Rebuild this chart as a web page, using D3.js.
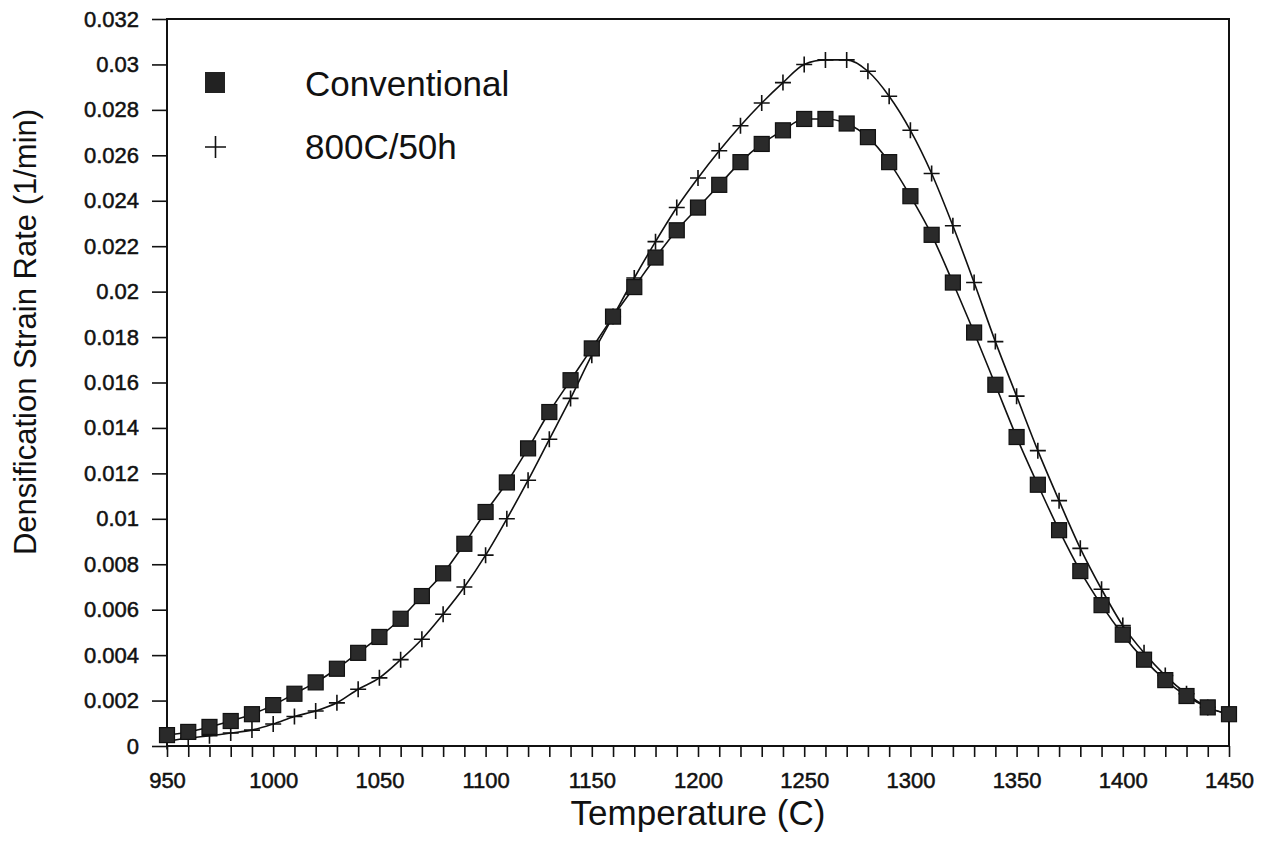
<!DOCTYPE html>
<html>
<head>
<meta charset="utf-8">
<script src="https://cdn.jsdelivr.net/npm/d3@7"></script>
<style>
  body { margin: 0; background: #fff; }
  text { font-family: "Liberation Sans", Arial, sans-serif; fill: #111; }
</style>
</head>
<body>
<div id="chart"></div>
<script>
// Chart data
var temps = [950, 960, 970, 980, 990, 1000, 1010, 1020, 1030, 1040,
             1050, 1060, 1070, 1080, 1090, 1100, 1110, 1120, 1130, 1140,
             1150, 1160, 1170, 1180, 1190, 1200, 1210, 1220, 1230, 1240,
             1250, 1260, 1270, 1280, 1290, 1300, 1310, 1320, 1330, 1340,
             1350, 1360, 1370, 1380, 1390, 1400, 1410, 1420, 1430, 1440, 1450];

var conventional = [0.00048, 0.00062, 0.00084, 0.0011, 0.0014, 0.0018, 0.0023, 0.0028, 0.0034, 0.0041,
                    0.0048, 0.0056, 0.0066, 0.0076, 0.0089, 0.0103, 0.0116, 0.0131, 0.0147, 0.0161,
                    0.0175, 0.0189, 0.0202, 0.0215, 0.0227, 0.0237, 0.0247, 0.0257, 0.0265, 0.0271,
                    0.0276, 0.0276, 0.0274, 0.0268, 0.0257, 0.0242, 0.0225, 0.0204, 0.0182, 0.0159,
                    0.0136, 0.0115, 0.0095, 0.0077, 0.0062, 0.0049, 0.0038, 0.0029, 0.0022, 0.0017, 0.0014];

var annealed = [0.0002, 0.00035, 0.00045, 0.00057, 0.0007, 0.00097, 0.0013, 0.00154, 0.0019, 0.0025,
                0.0030, 0.0038, 0.0047, 0.0058, 0.0070, 0.0084, 0.0100, 0.0117, 0.0135, 0.0153,
                0.0172, 0.0189, 0.0206, 0.0222, 0.0237, 0.0250, 0.0262, 0.0273, 0.0283, 0.0292,
                0.0300, 0.0302, 0.0302, 0.0297, 0.0286, 0.0271, 0.0252, 0.0229, 0.0204, 0.0178,
                0.0154, 0.0130, 0.0108, 0.0087, 0.0069, 0.0053, 0.0041, 0.0031, 0.0023, 0.0017, 0.0014];

var seriesNames = ['Conventional', '800C/50h'];
var xLabels = [950, 1000, 1050, 1100, 1150, 1200, 1250, 1300, 1350, 1400, 1450];
var yLabels = ['0', '0.002', '0.004', '0.006', '0.008', '0.01', '0.012', '0.014', '0.016',
               '0.018', '0.02', '0.022', '0.024', '0.026', '0.028', '0.03', '0.032'];

// Geometry
var width = 1277,
    height = 851;
var margin = {top: 19, right: 48, bottom: 105, left: 167};
var w = width - margin.left - margin.right,
    h = height - margin.top - margin.bottom;

var svg = d3.select('#chart').append('svg')
    .attr('width', width)
    .attr('height', height);

var g = svg.append('g')
    .attr('transform', 'translate(' + margin.left + ',' + margin.top + ')');

var x = d3.scaleLinear().domain([950, 1450]).range([0, w]);
var y = d3.scaleLinear().domain([0, 0.032]).range([h, 0]);

// Axes
var xAxis = d3.axisBottom(x)
    .tickValues(temps)
    .tickSize(11)
    .tickFormat(function(d) { return xLabels.indexOf(d) >= 0 ? d : ''; });

var yAxis = d3.axisLeft(y)
    .tickValues(yLabels.map(Number))
    .tickSize(15)
    .tickPadding(13)
    .tickFormat(function(d, i) { return yLabels[i]; });

var gx = g.append('g')
    .attr('transform', 'translate(0,' + h + ')')
    .call(xAxis);
gx.selectAll('text')
    .attr('dy', '1.25em')
    .style('font-size', '22px')
    .style('stroke', '#111')
    .style('stroke-width', 0.5);

var gy = g.append('g').call(yAxis);
gy.selectAll('text')
    .style('font-size', '22px')
    .style('stroke', '#111')
    .style('stroke-width', 0.5);

g.selectAll('.domain').remove();
g.selectAll('.tick line').attr('stroke', '#111').attr('stroke-width', 1.6);

// Frame
g.append('rect')
    .attr('x', 0).attr('y', 0)
    .attr('width', w).attr('height', h)
    .attr('fill', 'none')
    .attr('stroke', '#111')
    .attr('stroke-width', 2);

// Lines
var line = d3.line()
    .x(function(d) { return x(d[0]); })
    .y(function(d) { return y(d[1]); })
    .curve(d3.curveMonotoneX);

var convData = temps.map(function(t, i) { return [t, conventional[i]]; });
var annData = temps.map(function(t, i) { return [t, annealed[i]]; });

g.append('path').datum(annData)
    .attr('d', line)
    .attr('fill', 'none')
    .attr('stroke', '#111')
    .attr('stroke-width', 1.6);

g.append('path').datum(convData)
    .attr('d', line)
    .attr('fill', 'none')
    .attr('stroke', '#111')
    .attr('stroke-width', 1.6);

// Plus markers
var pl = 8;
g.selectAll('.plus')
    .data(annData)
    .enter().append('path')
    .attr('class', 'plus')
    .attr('d', function(d) {
      var cx = x(d[0]), cy = y(d[1]);
      return 'M' + (cx - pl) + ',' + cy + 'H' + (cx + pl) +
             'M' + cx + ',' + (cy - pl) + 'V' + (cy + pl);
    })
    .attr('stroke', '#111')
    .attr('stroke-width', 1.6);

// Square markers
var sq = 15;
g.selectAll('.sq')
    .data(convData)
    .enter().append('rect')
    .attr('class', 'sq')
    .attr('x', function(d) { return x(d[0]) - sq / 2; })
    .attr('y', function(d) { return y(d[1]) - sq / 2; })
    .attr('width', sq)
    .attr('height', sq)
    .attr('fill', '#2a2a2a')
    .attr('stroke', '#111')
    .attr('stroke-width', 1.2);

// Legend
var legend = svg.append('g');
legend.append('rect')
    .attr('x', 205).attr('y', 72)
    .attr('width', 20).attr('height', 21)
    .attr('fill', '#222');
legend.append('path')
    .attr('d', 'M205,147H226M215.5,136V158')
    .attr('stroke', '#111')
    .attr('stroke-width', 1.6);
legend.selectAll('.ltext')
    .data(seriesNames)
    .enter().append('text')
    .attr('x', 305)
    .attr('y', function(d, i) { return 96 + i * 63; })
    .style('font-size', '35px')
    .text(function(d) { return d; });

// Axis titles
svg.append('text')
    .attr('x', 698)
    .attr('y', 825)
    .attr('text-anchor', 'middle')
    .style('font-size', '35px')
    .text('Temperature (C)');

svg.append('text')
    .attr('transform', 'translate(36,332) rotate(-90)')
    .attr('text-anchor', 'middle')
    .style('font-size', '31px')
    .text('Densification Strain Rate (1/min)');
</script>
</body>
</html>
